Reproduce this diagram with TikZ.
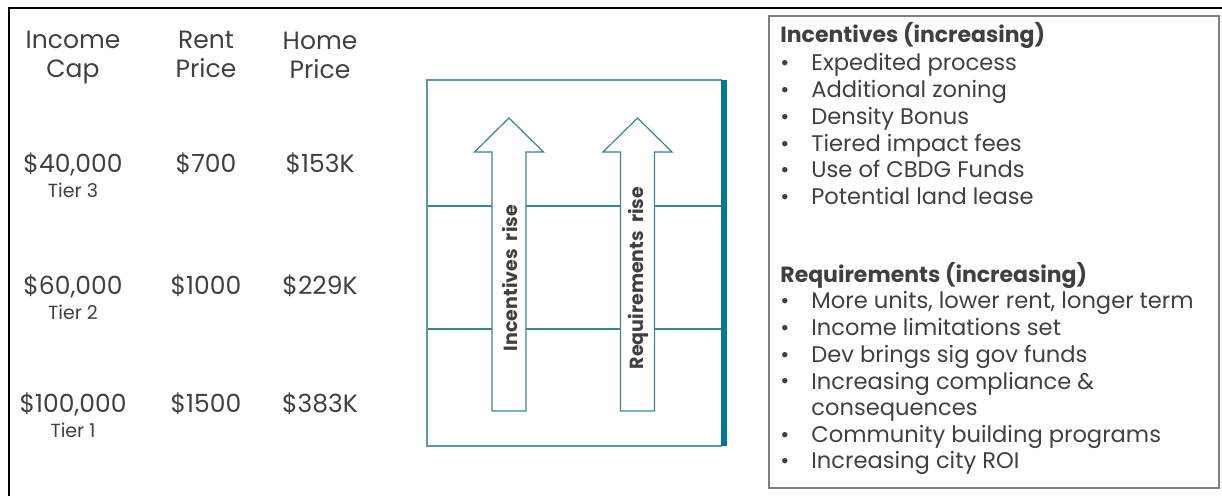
\documentclass[tikz,border=0pt]{standalone}
\usepackage{fontspec}
\setmainfont{Poppins}
\definecolor{ink}{HTML}{404040}
\definecolor{tealdark}{HTML}{00789A}
\definecolor{tealline}{HTML}{3A8499}
\definecolor{tealbox}{HTML}{5E97A8}
\definecolor{framegray}{HTML}{7F7F7F}
\tikzset{
  colhead/.style={anchor=base, align=center, text=ink, inner sep=0pt,
    font=\fontsize{12.5}{14.5}\selectfont},
  amount/.style={anchor=base, text=ink, inner sep=0pt,
    font=\fontsize{12.5}{14.5}\selectfont},
  tier/.style={anchor=base, text=ink, inner sep=0pt,
    font=\fontsize{9.5}{11}\selectfont},
  listhead/.style={anchor=base west, text=ink, inner sep=0pt,
    font=\fontsize{11}{13.4}\selectfont\bfseries},
  listitem/.style={anchor=base west, align=left, text=ink, inner sep=0pt,
    font=\fontsize{11.3}{13.4}\selectfont},
  dot/.style={anchor=base, text=ink, inner sep=0pt,
    font=\fontsize{11}{13.4}\selectfont},
  uparrow/.style={draw=tealline, fill=white, line width=0.6pt},
  risetext/.style={rotate=90, text=ink, inner sep=0pt,
    font=\fontsize{9.5}{11}\selectfont\bfseries}
}
\begin{document}
\begin{tikzpicture}[x=0.5pt, y=-0.5pt]
   \useasboundingbox (0,0) rectangle (1222,496);
   % outer frame, only top and left edges show
   \draw[line width=1.1pt] (9,520) -- (9,8) -- (1240,8);

   % price table (base of a two-line node is its last line)
   \node[colhead] (inc) at (73,78) {Income\\Cap};
   \node[colhead] (rent) at (206,78) {Rent\\Price};
   \node[colhead] (home) at (320,79) {Home\\Price};
   \foreach \y/\cap/\rent/\home/\t in {173/{40,000}/700/153K/3,
                                      295/{60,000}/1000/229K/2,
                                      413/{100,000}/1500/383K/1}{
     \node[amount] (cap\t) at (73,\y) {\$\cap};
     \node[amount] (rent\t) at (206,\y) {\$\rent};
     \node[amount] (home\t) at (320,\y) {\$\home};
     \node[tier] (tier\t) at (73,\y+25) {Tier \t};
   }

   % tier box with the two arrows
   \draw[tealline, line width=0.6pt] (427,206) -- (722,206) (427,329) -- (722,329);
   \draw[tealbox, line width=0.6pt] (722,80) -- (427,80) -- (427,446) -- (722,446);
   \draw[tealdark, line width=3pt] (724,80) -- (724,446);
   \foreach \x/\n in {509/incarrow, 637.5/reqarrow}{
     \draw[uparrow] (\x-17,411) -- (\x-17,152) -- (\x-34.5,152) -- (\x,118)
       -- (\x+34.5,152) -- (\x+17,152) -- (\x+17,411) -- cycle;
   }
   \node[risetext] (incrise) at (510,278) {Incentives\ \ rise};
   \node[risetext] (reqrise) at (638.5,278) {Requirements\ \ rise};

   % incentives and requirements list
   \draw[framegray, line width=1pt] (769,16) rectangle (1219,488);
   \node[listhead] (inchead) at (780,43) {Incentives (increasing)};
   \foreach \t [count=\i] in {Expedited process, Additional zoning, Density Bonus,
                              Tiered impact fees, Use of CBDG Funds, Potential land lease}{
     \node[dot] (incdot\i) at (785,44+\i*26.8) {\textbullet};
     \node[listitem] (incitem\i) at (811,44+\i*26.8) {\t};
   }
   \node[listhead] (reqhead) at (780,283) {Requirements (increasing)};
   \node[listitem] (reqitem4) at (811,416) {Increasing compliance \&\\consequences};
   \node[dot] (reqdot4) at (785,389) {\textbullet};
   \foreach \y/\t/\i in {309/{More units, lower rent, longer term}/1,
                         336/Income limitations set/2,
                         363/Dev brings sig gov funds/3,
                         443/Community building programs/5,
                         469/Increasing city ROI/6}{
     \node[dot] (reqdot\i) at (785,\y) {\textbullet};
     \node[listitem] (reqitem\i) at (811,\y) {\t};
   }
\end{tikzpicture}
\end{document}
